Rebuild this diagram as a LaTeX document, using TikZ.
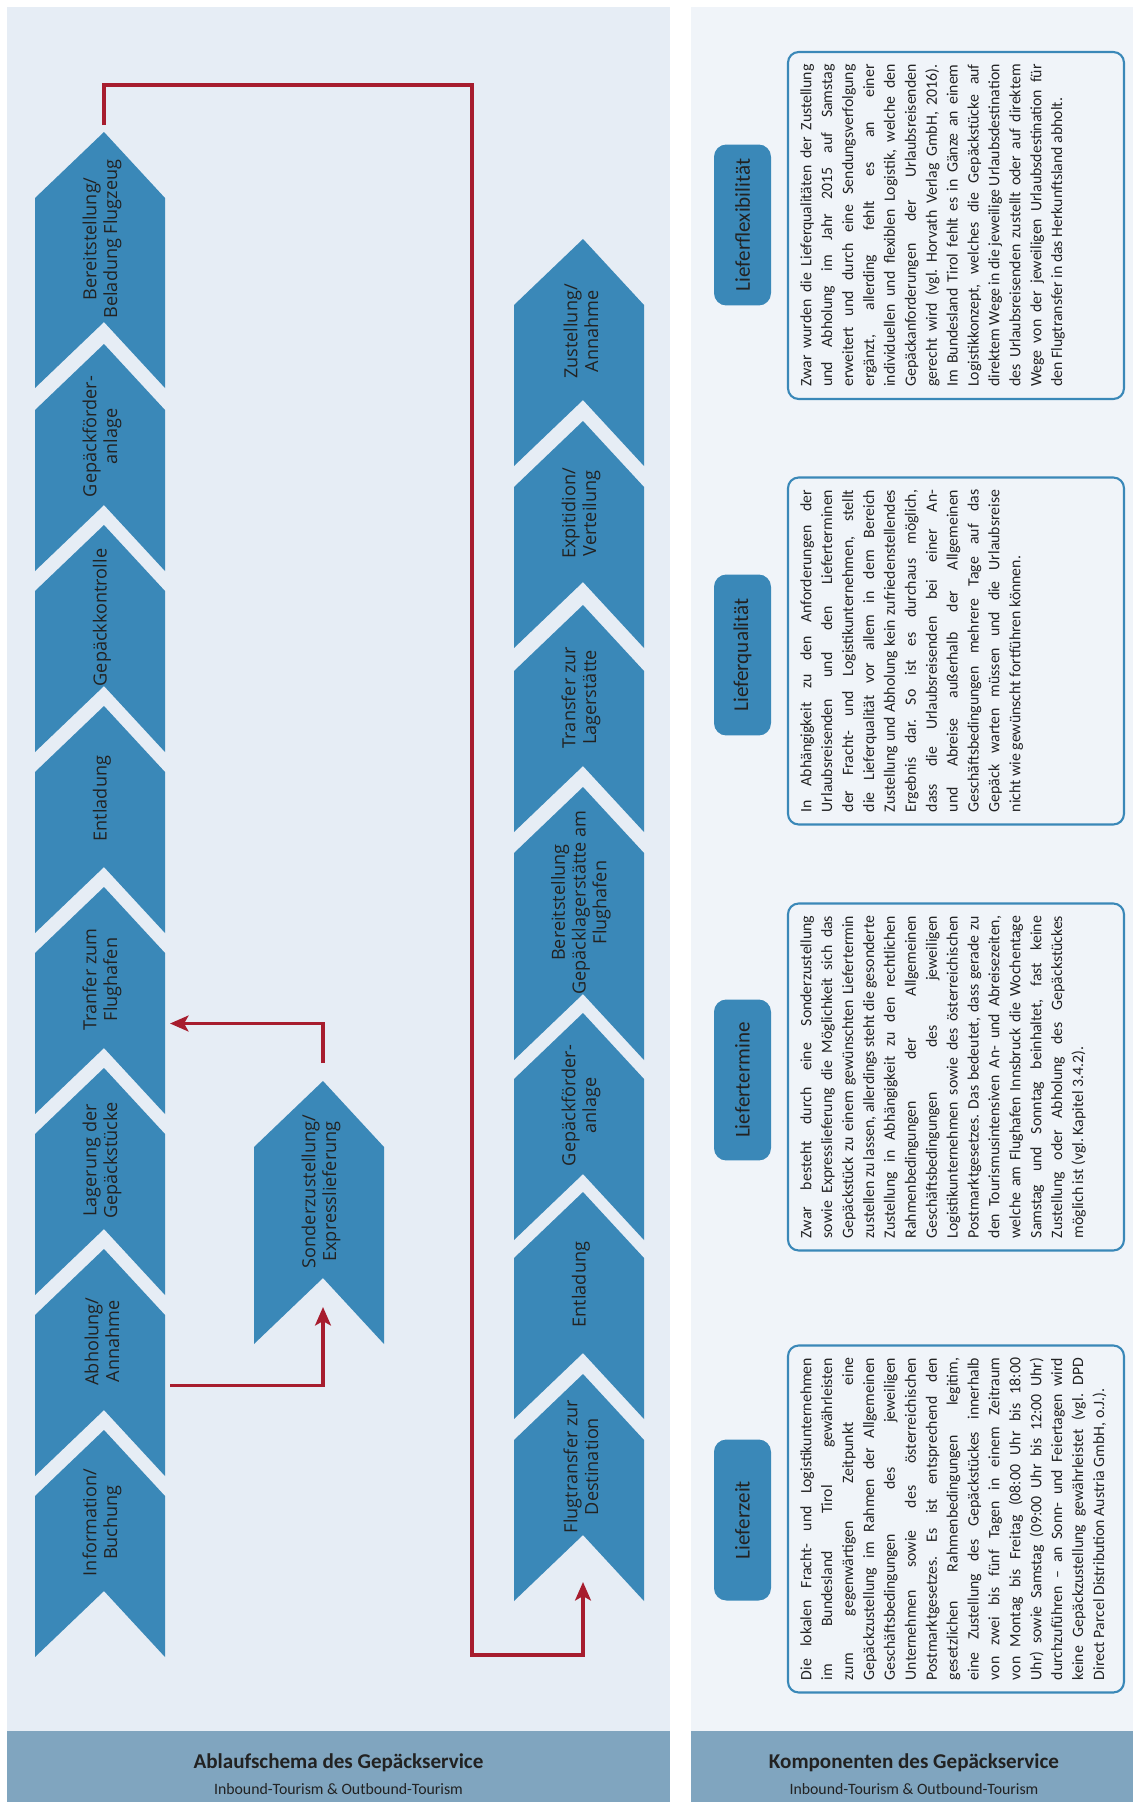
\documentclass[tikz,border=0pt]{standalone}
\usepackage{fontspec}
\setmainfont{Carlito}
\newfontfamily\chevfont{Open Sans}
\usetikzlibrary{arrows.meta, calc}
\definecolor{flowblue}{HTML}{3A88B8}
\definecolor{flowred}{HTML}{A71D2E}
\definecolor{panelleft}{HTML}{E6EDF5}
\definecolor{panelright}{HTML}{F0F4F9}
\definecolor{panelfoot}{HTML}{80A5BF}
\definecolor{inkgrey}{HTML}{222222}

% upward chevron: name, left x, tip y, tip-to-notch length, label
\newcommand{\flowchevron}[5]{%
  \fill[flowblue] (#2+69,#3) -- ++(61,66) -- ++(0,#4) -- ++(-61,-66)
    -- ++(-69,66) -- ++(0,-#4) -- cycle;
  \coordinate (#1-tip) at (#2+69,#3);
  \coordinate (#1-notch) at (#2+69,#3+#4);
  \coordinate (#1-east) at (#2+130,#3+56+#4/2);
  \node[chevlabel] (#1) at (#2+67,#3+12+#4/2) {#5};
}

\begin{document}
\begin{tikzpicture}[x=0.02cm, y=-0.02cm,
  chevlabel/.style={rotate=90, align=center, inner sep=0pt, text=inkgrey,
    font=\chevfont\fontsize{10.3}{11.8}\selectfont},
  tag/.style={rotate=90, fill=flowblue, rounded corners=7pt,
    minimum width=3.22cm, minimum height=1.14cm, text=inkgrey,
    font=\fontsize{12}{14}\selectfont},
  infobox/.style={draw=flowblue, line width=1.2pt, rounded corners=6pt,
    fill=panelright, minimum width=6.72cm, minimum height=6.94cm},
  infotext/.style={rotate=90, anchor=north, inner sep=0pt, text width=6.45cm,
    align=justify, text=inkgrey, font=\fontsize{9}{11.9}\selectfont,
    execute at begin node={\frenchspacing\hyphenpenalty=10000 \exhyphenpenalty=10000 }},
  foottitle/.style={text=inkgrey, font=\bfseries\fontsize{12}{14}\selectfont},
  footsub/.style={text=inkgrey, font=\fontsize{9}{11}\selectfont},
  arrow/.style={-{Stealth[length=10.5pt, width=9pt, inset=2.5pt]},
    line width=2.2pt, draw=flowred}]
  \useasboundingbox (0,0) rectangle (1133,1802);
  \fill[white] (0,0) rectangle (1133,1802);

  % panels and footers
  \fill[panelleft] (7,7) rectangle (670,1731);
  \fill[panelfoot] (7,1731) rectangle (670,1802);
  \fill[panelright] (691,7) rectangle (1133,1731);
  \fill[panelfoot] (691,1731) rectangle (1133,1802);
  \node[foottitle] (ablauf) at (338.5,1763) {Ablaufschema des Gepäckservice};
  \node[footsub] (ablaufsub) at (338.5,1789) {Inbound-Tourism \& Outbound-Tourism};
  \node[foottitle] (komp) at (914,1763) {Komponenten des Gepäckservice};
  \node[footsub] (kompsub) at (914,1789) {Inbound-Tourism \& Outbound-Tourism};

  % departure chain
  \flowchevron{bel}{35}{132}{190}{Bereitstellung/\\Beladung Flugzeug}
  \flowchevron{foerder}{35}{344}{161}{Gepäckförder-\\anlage}
  \flowchevron{kontrolle}{35}{525}{161}{Gepäckkontrolle}
  \flowchevron{entl}{35}{706}{161}{Entladung}
  \flowchevron{tranfer}{35}{887}{161}{Tranfer zum\\Flughafen}
  \flowchevron{lager}{35}{1068}{161}{Lagerung der\\Gepäckstücke}
  \flowchevron{abh}{35}{1249}{161}{Abholung/\\Annahme}
  \flowchevron{info}{35}{1430}{161}{Information/\\Buchung}
  \flowchevron{sonder}{254}{1081}{197}{Sonderzustellung/\\Expresslieferung}

  % arrival chain
  \flowchevron{zust}{514}{239}{161}{Zustellung/\\Annahme}
  \flowchevron{expi}{514}{421}{161}{Expitidion/\\Verteilung}
  \flowchevron{lagerst}{514}{605}{161}{Transfer zur\\Lagerstätte}
  \flowchevron{bereit}{514}{787}{207}{Bereitstellung\\Gepäcklagerstätte am\\Flughafen}
  \flowchevron{foerderR}{514}{1013}{161}{Gepäckförder-\\anlage}
  \flowchevron{entlR}{514}{1192}{161}{Entladung}
  \flowchevron{flug}{514}{1374}{161}{Flugtransfer zur\\Destination}

  % connectors
  \draw[arrow] ($(bel-tip)+(0,-7)$) |- (472,85) -- (472,1655)
    -| ($(flug-notch)+(0,47)$);
  \draw[arrow] ($(abh-east)+(5,0)$) -| ($(sonder-notch)+(0,29)$);
  \draw[arrow] ($(sonder-tip)+(0,-18)$) |- ($(tranfer-east)+(5,0)$);

  % components
  \node[tag] (flex) at (742.5,225) {Lieferflexibilität};
  \node[tag] (quali) at (742.5,655) {Lieferqualität};
  \node[tag] (termine) at (742.5,1080) {Liefertermine};
  \node[tag] (zeit) at (742.5,1520) {Lieferzeit};

  \node[infobox] (flexbox) at (956,225.5) {};
  \node[infobox] (qualibox) at (956,651) {};
  \node[infobox] (terminbox) at (956,1077) {};
  \node[infobox] (zeitbox) at (956,1519) {};

  \node[infotext] (flextext) at ($(flexbox.west)+(13,0)$) {Zwar wurden die Lieferqualitäten der Zustellung\linebreak
    und Abholung im Jahr 2015 auf Samstag\linebreak
    erweitert und durch eine Sendungsverfolgung\linebreak
    ergänzt, allerding fehlt es an einer\linebreak
    individuellen und flexiblen Logistik, welche den\linebreak
    Gepäckanforderungen der Urlaubsreisenden\linebreak
    gerecht wird (vgl. Horvath Verlag GmbH, 2016).\linebreak
    Im Bundesland Tirol fehlt es in Gänze an einem\linebreak
    Logistikkonzept, welches die Gepäckstücke auf\linebreak
    direktem Wege in die jeweilige Urlaubsdestination\linebreak
    des Urlaubsreisenden zustellt oder auf direktem\linebreak
    Wege von der jeweiligen Urlaubsdestination für\linebreak
    den Flugtransfer in das Herkunftsland abholt.};

  \node[infotext] (qualitext) at ($(qualibox.west)+(13,0)$) {In Abhängigkeit zu den Anforderungen der\linebreak
    Urlaubsreisenden und den Lieferterminen\linebreak
    der Fracht- und Logistikunternehmen, stellt\linebreak
    die Lieferqualität vor allem in dem Bereich\linebreak
    Zustellung und Abholung kein zufriedenstellendes\linebreak
    Ergebnis dar. So ist es durchaus möglich,\linebreak
    dass die Urlaubsreisenden bei einer An-\linebreak
    und Abreise außerhalb der Allgemeinen\linebreak
    Geschäftsbedingungen mehrere Tage auf das\linebreak
    Gepäck warten müssen und die Urlaubsreise\linebreak
    nicht wie gewünscht fortführen können.};

  \node[infotext] (termintext) at ($(terminbox.west)+(13,0)$) {Zwar besteht durch eine Sonderzustellung\linebreak
    sowie Expresslieferung die Möglichkeit sich das\linebreak
    Gepäckstück zu einem gewünschten Liefertermin\linebreak
    zustellen zu lassen, allerdings steht die gesonderte\linebreak
    Zustellung in Abhängigkeit zu den rechtlichen\linebreak
    Rahmenbedingungen der Allgemeinen\linebreak
    Geschäftsbedingungen des jeweiligen\linebreak
    Logistikunternehmen sowie des österreichischen\linebreak
    Postmarktgesetzes. Das bedeutet, dass gerade zu\linebreak
    den Tourismusintensiven An- und Abreisezeiten,\linebreak
    welche am Flughafen Innsbruck die Wochentage\linebreak
    Samstag und Sonntag beinhaltet, fast keine\linebreak
    Zustellung oder Abholung des Gepäckstückes\linebreak
    möglich ist (vgl. Kapitel 3.4.2).};

  \node[infotext] (zeittext) at ($(zeitbox.west)+(13,0)$) {Die lokalen Fracht- und Logistikunternehmen\linebreak
    im Bundesland Tirol gewährleisten\linebreak
    zum gegenwärtigen Zeitpunkt eine\linebreak
    Gepäckzustellung im Rahmen der Allgemeinen\linebreak
    Geschäftsbedingungen des jeweiligen\linebreak
    Unternehmen sowie des österreichischen\linebreak
    Postmarktgesetzes. Es ist entsprechend den\linebreak
    gesetzlichen Rahmenbedingungen legitim,\linebreak
    eine Zustellung des Gepäckstückes innerhalb\linebreak
    von zwei bis fünf Tagen in einem Zeitraum\linebreak
    von Montag bis Freitag (08:00 Uhr bis 18:00\linebreak
    Uhr) sowie Samstag (09:00 Uhr bis 12:00 Uhr)\linebreak
    durchzuführen – an Sonn- und Feiertagen wird\linebreak
    keine Gepäckzustellung gewährleistet (vgl. DPD\linebreak
    Direct Parcel Distribution Austria GmbH, o.J.).};
\end{tikzpicture}
\end{document}
